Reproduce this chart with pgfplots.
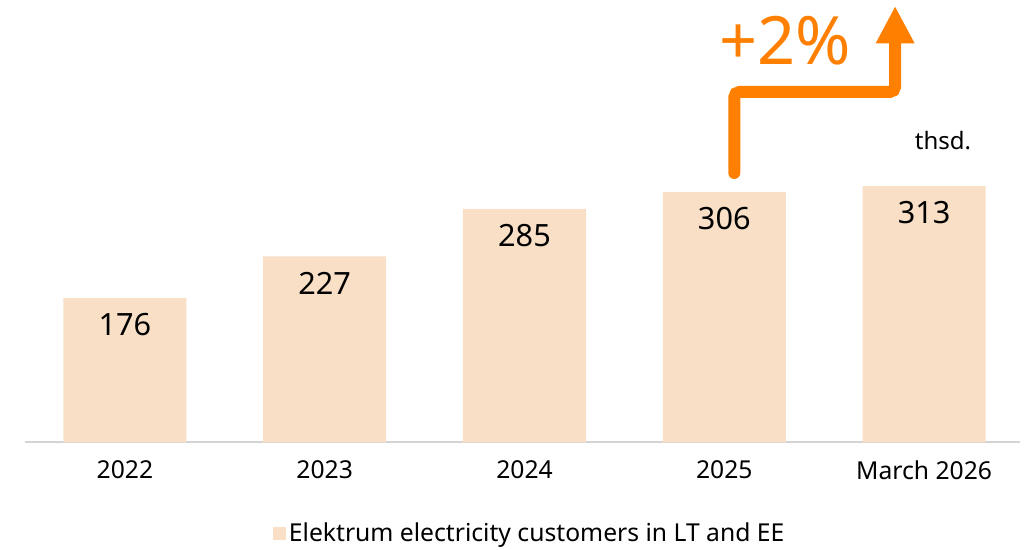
\documentclass[border=0pt]{standalone}
\usepackage{pgfplots}
\pgfplotsset{compat=1.18}
\usepackage{fontspec}
\setmainfont{Noto Sans}
\usetikzlibrary{arrows.meta}
\definecolor{barc}{HTML}{F8DFC6}
\definecolor{orng}{HTML}{FF7F00}
\definecolor{axc}{HTML}{D4D4D4}
\begin{document}
\begin{tikzpicture}
\begin{axis}[at={(0pt,0pt)}, anchor=south west, scale only axis,
  width=746.25pt, height=331.5pt,
  xmin=-0.5, xmax=4.48, ymin=0, ymax=540,
  axis x line*=bottom, axis y line=none,
  x axis line style={draw=axc, line width=1.5pt},
  xtick=data, xticklabels={2022,2023,2024,2025,March 2026},
  major tick length=0pt,
  /pgf/number format/assume math mode=true,
  xticklabel style={font=\fontsize{18.5}{22}\selectfont, yshift=-10pt},
  ybar, bar width=0.616, bar shift=0pt, clip=false,
  nodes near coords,
  every node near coord/.append style={anchor=center, yshift=-20pt, font=\fontsize{23}{27}\selectfont, text=black},
  legend style={at={(0.5075,-0.206)}, anchor=center, draw=none, font=\fontsize{18.5}{22}\selectfont},
  legend image code/.code={\fill[barc] (0pt,-5pt) rectangle (10pt,5pt);},
]
\addplot[fill=barc, draw=none] coordinates {(0,176) (1,227) (2,285) (3,306) (4,313)};
\addlegendentry{Elektrum electricity customers in LT and EE}
\draw[orng, line width=9pt, line cap=round, rounded corners=4pt, -{Triangle[width=27pt,length=28pt]}]
  (axis cs:3.05,329) -- (axis cs:3.05,428) -- (axis cs:3.855,428) -- (axis cs:3.855,533);
\node[text=orng, font=\fontsize{50}{58}\selectfont] at (axis cs:3.304,491) {+2\%};
\node[font=\fontsize{18}{22}\selectfont] at (axis cs:4.095,369) {thsd.};
\end{axis}
\path[use as bounding box] (-18.75pt,-78pt) rectangle (750pt,331.5pt);
\end{tikzpicture}
\end{document}
